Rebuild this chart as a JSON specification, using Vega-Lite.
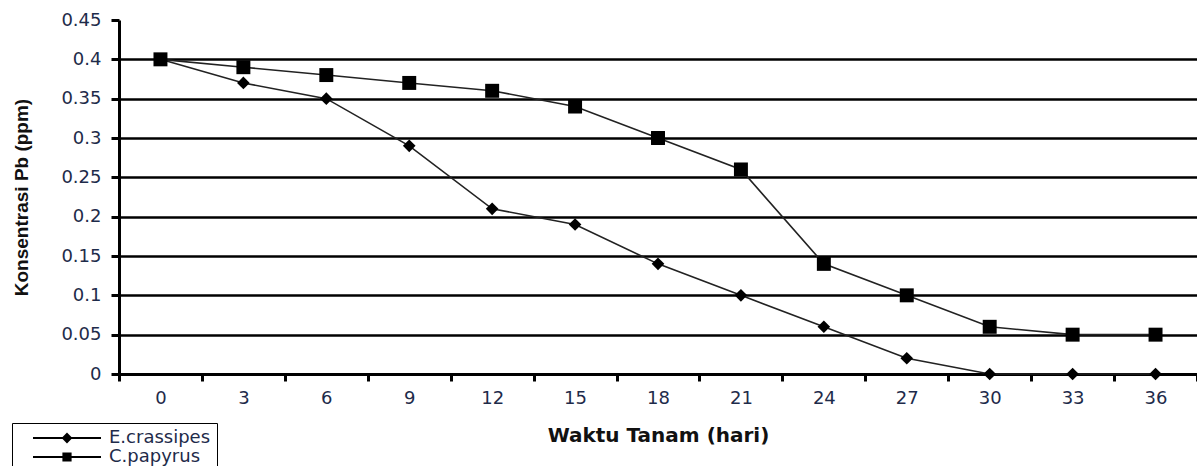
{
  "$schema": "https://vega.github.io/schema/vega-lite/v6.json",
  "width": 1078,
  "height": 354,
  "autosize": {"type": "none"},
  "padding": {"left": 119, "top": 20, "right": 0, "bottom": 92},
  "background": "white",
  "config": {"view": {"stroke": null}},
  "data": {
    "values": [
      {"hari": "0", "pb": 0.40, "seri": "E.crassipes"},
      {"hari": "3", "pb": 0.37, "seri": "E.crassipes"},
      {"hari": "6", "pb": 0.35, "seri": "E.crassipes"},
      {"hari": "9", "pb": 0.29, "seri": "E.crassipes"},
      {"hari": "12", "pb": 0.21, "seri": "E.crassipes"},
      {"hari": "15", "pb": 0.19, "seri": "E.crassipes"},
      {"hari": "18", "pb": 0.14, "seri": "E.crassipes"},
      {"hari": "21", "pb": 0.10, "seri": "E.crassipes"},
      {"hari": "24", "pb": 0.06, "seri": "E.crassipes"},
      {"hari": "27", "pb": 0.02, "seri": "E.crassipes"},
      {"hari": "30", "pb": 0.0, "seri": "E.crassipes"},
      {"hari": "33", "pb": 0.0, "seri": "E.crassipes"},
      {"hari": "36", "pb": 0.0, "seri": "E.crassipes"},
      {"hari": "0", "pb": 0.40, "seri": "C.papyrus"},
      {"hari": "3", "pb": 0.39, "seri": "C.papyrus"},
      {"hari": "6", "pb": 0.38, "seri": "C.papyrus"},
      {"hari": "9", "pb": 0.37, "seri": "C.papyrus"},
      {"hari": "12", "pb": 0.36, "seri": "C.papyrus"},
      {"hari": "15", "pb": 0.34, "seri": "C.papyrus"},
      {"hari": "18", "pb": 0.30, "seri": "C.papyrus"},
      {"hari": "21", "pb": 0.26, "seri": "C.papyrus"},
      {"hari": "24", "pb": 0.14, "seri": "C.papyrus"},
      {"hari": "27", "pb": 0.10, "seri": "C.papyrus"},
      {"hari": "30", "pb": 0.06, "seri": "C.papyrus"},
      {"hari": "33", "pb": 0.05, "seri": "C.papyrus"},
      {"hari": "36", "pb": 0.05, "seri": "C.papyrus"}
    ]
  },
  "encoding": {
    "x": {
      "field": "hari",
      "type": "ordinal",
      "sort": null,
      "bandPosition": 0.5,
      "scale": {"type": "band", "paddingInner": 0, "paddingOuter": 0, "domain": ["0","3","6","9","12","15","18","21","24","27","30","33","36"]},
      "axis": {
        "title": "Waktu Tanam (hari)",
        "titleFont": "DejaVu Sans",
        "titleFontWeight": "bold",
        "titleFontSize": 20,
        "titleColor": "#111",
        "titlePadding": 18,
        "labelAngle": 0,
        "labelFont": "DejaVu Sans",
        "labelFontSize": 18,
        "labelColor": "#1e2b4a",
        "labelPadding": 8,
        "tickBand": "extent",
        "tickSize": 7,
        "tickWidth": 3,
        "tickColor": "black",
        "domainColor": "black",
        "domainWidth": 3,
        "grid": false
      }
    },
    "y": {
      "field": "pb",
      "type": "quantitative",
      "scale": {"domain": [0, 0.45], "nice": false, "zero": true},
      "axis": {
        "title": "Konsentrasi Pb (ppm)",
        "titleFont": "Liberation Sans",
        "titleFontWeight": "bold",
        "titleFontSize": 19,
        "titleColor": "#111",
        "titleX": -92,
        "titleY": 177,
        "titleAngle": -90,
        "titleAlign": "center",
        "titleBaseline": "alphabetic",
        "values": [0, 0.05, 0.1, 0.15, 0.2, 0.25, 0.3, 0.35, 0.4, 0.45],
        "format": "~g",
        "labelFont": "DejaVu Sans",
        "labelFontSize": 18,
        "labelColor": "#1e2b4a",
        "labelPadding": 10,
        "tickSize": 8,
        "tickWidth": 3,
        "tickColor": "black",
        "domainColor": "black",
        "domainWidth": 3,
        "grid": true,
        "gridColor": "black",
        "gridWidth": 2.5,
        "gridOpacity": {"condition": {"test": "datum.value > 0.44", "value": 0}, "value": 1}
      }
    }
  },
  "layer": [
    {
      "mark": {"type": "line", "color": "#222", "strokeWidth": 1.6},
      "encoding": {"detail": {"field": "seri"}}
    },
    {
      "mark": {"type": "point", "filled": true, "color": "black", "opacity": 1},
      "encoding": {
        "shape": {"field": "seri", "scale": {"domain": ["E.crassipes", "C.papyrus"], "range": ["diamond", "square"]}, "legend": null},
        "size": {"field": "seri", "scale": {"domain": ["E.crassipes", "C.papyrus"], "range": [160, 195]}, "legend": null}
      }
    },
    {
      "transform": [{"filter": "datum.pb < 0"}],
      "mark": {"type": "point", "filled": false, "color": "black", "size": 256, "strokeWidth": 2, "opacity": 1},
      "encoding": {
        "shape": {
          "field": "seri",
          "scale": {"domain": ["E.crassipes", "C.papyrus"], "range": ["M0.75,0H9.25M5,-0.5L5.5,0L5,0.5L4.5,0ZM5,-0.3L5.3,0L5,0.3L4.7,0ZM5,-0.1L5.1,0L5,0.1L4.9,0Z", "M0.75,0H9.25M4.55,-0.45H5.45V0.45H4.55ZM4.75,-0.25H5.25V0.25H4.75ZM4.92,-0.08H5.08V0.08H4.92Z"]},
          "legend": {
            "title": null,
            "orient": "none",
            "legendX": -107,
            "legendY": 403,
            "padding": 6,
            "strokeColor": "black",
            "fillColor": "white",
            "rowPadding": 1,
            "labelOffset": 73,
            "labelFont": "DejaVu Sans",
            "labelFontSize": 18,
            "labelColor": "#1e2b4a",
            "symbolStrokeColor": "black",
            "symbolStrokeWidth": 2,
            "symbolSize": 256,
            "symbolOpacity": 1
          }
        }
      }
    }
  ],
  "resolve": {"scale": {"shape": "independent", "size": "independent"}}
}
